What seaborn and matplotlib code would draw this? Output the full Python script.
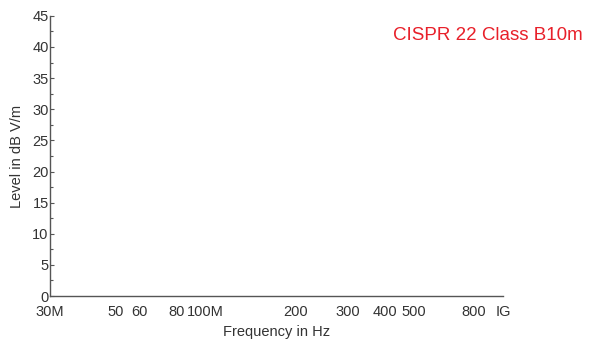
import matplotlib
matplotlib.use("Agg")
import matplotlib.pyplot as plt
import numpy as np
import seaborn as sns

# axis setup (the chart holds no traces)
x_ticks = [30e6, 40e6, 50e6, 60e6, 70e6, 80e6, 100e6, 200e6, 300e6, 400e6, 500e6, 600e6, 700e6, 800e6, 1e9]
x_labels = ["30M", "", "50", "60", "", "80", "100M", "200", "300", "400", "500", "", "", "800", "IG"]
y_ticks = [0, 5, 10, 15, 20, 25, 30, 35, 40, 45]
y_minor = [2.5, 7.5, 12.5, 17.5, 22.5, 27.5, 32.5, 37.5, 42.5]
freq = []
level = []
title = "CISPR 22 Class B10m"

sns.set_style("white")
plt.rcParams['font.family'] = ['Liberation Sans', 'DejaVu Sans']

fig = plt.figure(figsize=(5.89, 3.45), dpi=100)
ax = fig.add_axes([0.085, 0.142, 0.769, 0.812])

sns.lineplot(x=np.array(freq, dtype=float), y=np.array(level, dtype=float), ax=ax)

ax.set_xscale('log')
ax.set_xlim(x_ticks[0], x_ticks[-1])
ax.set_ylim(0, 45)
ax.margins(0)

ax.set_xticks(x_ticks)
ax.set_xticklabels(x_labels)
ax.xaxis.set_minor_locator(matplotlib.ticker.NullLocator())
ax.set_yticks(y_ticks)
ax.set_yticks(y_minor, minor=True)

txt = '#333333'
for side in ['top', 'right']:
    ax.spines[side].set_visible(False)
for side in ['left', 'bottom']:
    ax.spines[side].set_color('#555555')
    ax.spines[side].set_linewidth(1.0)
ax.spines['bottom'].set_bounds(x_ticks[0], x_ticks[-1])

ax.tick_params(axis='x', which='major', direction='inout', length=5, width=0.8,
               color='#555555', labelsize=10.5, labelcolor=txt, pad=4)
ax.tick_params(axis='y', which='both', direction='in', length=3, width=0.8,
               color='#555555', labelsize=10.5, labelcolor=txt, pad=1, left=True)
ax.tick_params(axis='y', which='minor', length=2)

ax.set_xlabel('Frequency in Hz', fontsize=10.5, color=txt, labelpad=4)
ax.set_ylabel('Level in dB V/m', fontsize=10.5, color=txt, labelpad=6)

fig.text(0.99, 0.897, title, color='#e8202a', fontsize=13.5, ha='right', va='center')

plt.savefig('out.png', dpi=100)
